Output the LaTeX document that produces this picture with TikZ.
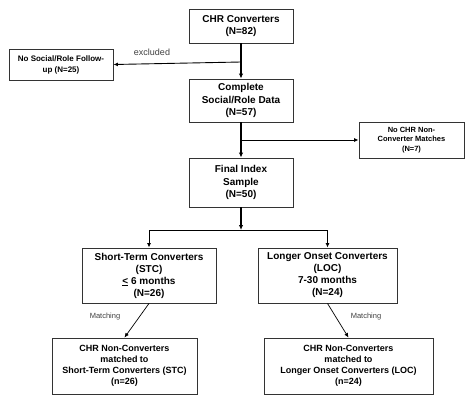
\documentclass[tikz,border=0pt]{standalone}
\usepackage{fontspec}
\setmainfont{Liberation Sans}
\usetikzlibrary{arrows.meta}

\begin{document}
\begin{tikzpicture}[x=1pt, y=-1pt]
\tikzset{boite/.style={draw=black!80, line width=0.9pt, align=center, inner sep=1pt, font=\bfseries\fontsize{10}{12.5}\selectfont},
petite/.style={boite, font=\bfseries\fontsize{8}{11}\selectfont},
basse/.style={boite, font=\bfseries\fontsize{9}{11}\selectfont},
fleche/.style={line width=1.2pt, -{Latex[length=5pt,width=4.5pt]}},
fine/.style={line width=0.7pt, -{Latex[length=4.5pt,width=4pt]}},
etiq/.style={font=\fontsize{7.5}{8}\selectfont, text=black!75}}
\useasboundingbox (0, 0) rectangle (474, 404);
\node[boite, minimum width=104pt, minimum height=34pt] (CHR) at (241, 26) {CHR Converters\\(N=82)};
\node[petite, minimum width=104pt, minimum height=31pt] (NoSoc) at (61, 64.5) {No Social/Role Follow-\\up (N=25)};
\node[boite, minimum width=104pt, minimum height=43pt] (Comp) at (241, 100.5) {Complete\\Social/Role Data\\(N=57)};
\node[petite, minimum width=105pt, minimum height=36pt, font=\bfseries\fontsize{7.5}{9.5}\selectfont] (NoCHR) at (411.5, 140) {No CHR Non-\\Converter Matches\\(N=7)};
\node[boite, minimum width=104pt, minimum height=49pt] (Final) at (241, 182.5) {Final Index\\Sample\\(N=50)};
\node[boite, minimum width=134pt, minimum height=55pt, font=\bfseries\fontsize{10}{12}\selectfont] (STC) at (149, 275.5) {Short-Term Converters\\(STC)\\\underline{<} 6 months\\(N=26)};
\node[boite, minimum width=139pt, minimum height=55pt, font=\bfseries\fontsize{10}{12}\selectfont] (LOC) at (327.5, 275.5) {Longer Onset Converters\\(LOC)\\7-30 months\\(N=24)};
\node[basse, minimum width=145pt, minimum height=56pt] (MSTC) at (124.5, 366) {CHR Non-Converters\\matched to\\Short-Term Converters (STC)\\(n=26)};
\node[basse, minimum width=169pt, minimum height=56pt] (MLOC) at (348.5, 366) {CHR Non-Converters\\matched to\\Longer Onset Converters (LOC)\\(n=24)};
% embranchements
\coordinate (B1) at (241, 62);
\coordinate (B2) at (241, 140);
\coordinate (B3) at (241, 230);
\coordinate (G3) at (149, 230);
\coordinate (D3) at (327.5, 230);
\draw[fleche] (CHR) -- (Comp);
\draw[line width=0.9pt, -{Latex[length=4.5pt,width=4pt]}] (B1) -- (NoSoc.east);
\node[etiq, font=\fontsize{9}{10}\selectfont] (Excl) at (152, 52) {excluded};
\draw[fleche] (Comp) -- (Final);
\draw[line width=0.9pt, -{Latex[length=4.5pt,width=4pt]}] (B2) -- (NoCHR.west);
\draw[fleche] (Final) -- (B3);
\draw[line width=0.9pt] (G3) -- (D3);
\draw[line width=0.9pt, -{Latex[length=4.5pt,width=4pt]}] (G3) -- (STC.north);
\draw[line width=0.9pt, -{Latex[length=4.5pt,width=4pt]}] (D3) -- (LOC.north);
\draw[fine] (STC.south) -- (MSTC.north);
\draw[fine] (LOC.south) -- (MLOC.north);
\node[etiq] (Match1) at (105, 317) {Matching};
\node[etiq] (Match2) at (366, 317) {Matching};
\end{tikzpicture}
\end{document}
